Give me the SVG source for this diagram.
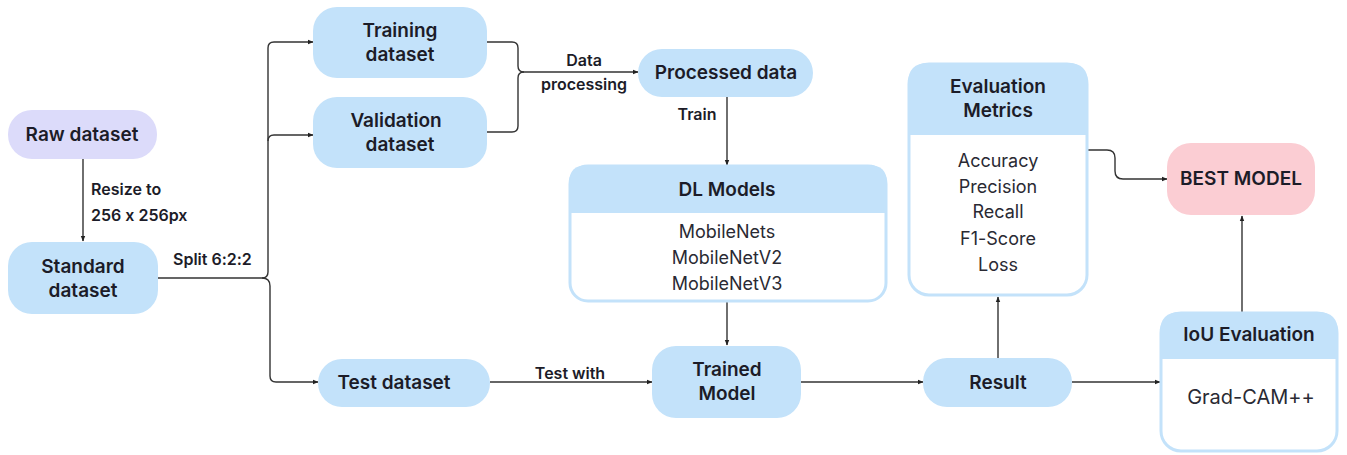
<svg xmlns="http://www.w3.org/2000/svg" width="1347" height="455" viewBox="0 0 1347 455">
<defs>
<marker id="ah" markerWidth="6" markerHeight="6" refX="5" refY="3" orient="auto" markerUnits="userSpaceOnUse">
<path d="M0,0.8 L5.5,3 L0,5.2 Z" fill="#222"/>
</marker>
<style>
.blue{fill:#c3e2fa}
.lav{fill:#dcdbfa}
.pink{fill:#fbcdd3}
.frame{fill:#ffffff;stroke:#c3e2fa;stroke-width:3}
text{font-feature-settings:"calt" 0;font-variant-ligatures:no-contextual}
.t{font-family:Inter,"Liberation Sans",sans-serif;font-weight:600;font-size:19px;fill:#1c1c28;text-anchor:middle}
.b{font-family:Inter,"Liberation Sans",sans-serif;font-weight:400;font-size:18px;fill:#2a2a33;text-anchor:middle}
.l{font-family:Inter,"Liberation Sans",sans-serif;font-weight:600;font-size:16px;fill:#1c1c28}
.c{fill:none;stroke:#333;stroke-width:1.4}
</style>
</defs>
<rect width="1347" height="455" fill="#ffffff"/>

<g id="connectors">
<path class="c" d="M83,159 V241" marker-end="url(#ah)"/>
<path class="c" d="M158,278 H262 Q268,278 268,272 V48 Q268,42 274,42 H313" marker-end="url(#ah)"/>
<path class="c" d="M268,141 Q268,135 274,135 H313" marker-end="url(#ah)"/>
<path class="c" d="M262,278 Q270,278 270,286 V376 Q270,382 276,382 H318" marker-end="url(#ah)"/>
<path class="c" d="M487,42 H512 Q518,42 518,48 V66 Q518,72 524,72 H638" marker-end="url(#ah)"/>
<path class="c" d="M487,132 H512 Q518,132 518,126 V78 Q518,72 524,72"/>
<path class="c" d="M727,97 V165" marker-end="url(#ah)"/>
<path class="c" d="M727,302 V345" marker-end="url(#ah)"/>
<path class="c" d="M490,382 H652" marker-end="url(#ah)"/>
<path class="c" d="M801,382 H923" marker-end="url(#ah)"/>
<path class="c" d="M998,358 V297" marker-end="url(#ah)"/>
<path class="c" d="M1088,150 H1107 Q1115,150 1115,158 V171 Q1115,179 1123,179 H1167" marker-end="url(#ah)"/>
<path class="c" d="M1072,382 H1160" marker-end="url(#ah)"/>
<path class="c" d="M1242,312 V216" marker-end="url(#ah)"/>
<text class="l" x="91" y="195">Resize to</text>
<text class="l" x="91" y="221">256 x 256px</text>
<text class="l" x="173" y="265">Split 6:2:2</text>
<text class="l" x="584" y="66" text-anchor="middle">Data</text>
<text class="l" x="584" y="90" text-anchor="middle">processing</text>
<text class="l" x="697" y="120" text-anchor="middle">Train</text>
<text class="l" x="570" y="379" text-anchor="middle">Test with</text>
</g>

<g id="raw">
<rect class="lav" x="8" y="110" width="149" height="49" rx="24"/>
<text class="t" x="82" y="141">Raw dataset</text>
</g>
<g id="standard">
<rect class="blue" x="8" y="242" width="150" height="72" rx="24"/>
<text class="t" x="83" y="273">Standard</text>
<text class="t" x="83" y="297">dataset</text>
</g>
<g id="training">
<rect class="blue" x="313" y="7" width="174" height="71" rx="24"/>
<text class="t" x="400" y="37">Training</text>
<text class="t" x="400" y="61">dataset</text>
</g>
<g id="validation">
<rect class="blue" x="313" y="97" width="174" height="71" rx="24"/>
<text class="t" x="396" y="127">Validation</text>
<text class="t" x="400" y="151">dataset</text>
</g>
<g id="test">
<rect class="blue" x="318" y="359" width="172" height="48" rx="24"/>
<text class="t" x="394" y="389">Test dataset</text>
</g>
<g id="processed">
<rect class="blue" x="638" y="49" width="175" height="48" rx="24"/>
<text class="t" x="726" y="79">Processed data</text>
</g>
<g id="dlmodels">
<rect class="frame" x="570" y="166" width="316" height="135" rx="18"/>
<path class="blue" d="M569,213 V183 Q569,165 587,165 H869 Q887,165 887,183 V213 Z"/>
<text class="t" x="727" y="196">DL Models</text>
<text class="b" x="727" y="238">MobileNets</text>
<text class="b" x="727" y="264">MobileNetV2</text>
<text class="b" x="727" y="290">MobileNetV3</text>
</g>
<g id="trained">
<rect class="blue" x="652" y="346" width="149" height="72" rx="24"/>
<text class="t" x="727" y="376">Trained</text>
<text class="t" x="727" y="400">Model</text>
</g>
<g id="result">
<rect class="blue" x="923" y="358" width="149" height="49" rx="24"/>
<text class="t" x="998" y="389">Result</text>
</g>
<g id="evaluation">
<rect class="frame" x="909" y="64" width="178" height="231" rx="20"/>
<path class="blue" d="M908,135 V83 Q908,63 928,63 H1068 Q1088,63 1088,83 V135 Z"/>
<text class="t" x="998" y="93">Evaluation</text>
<text class="t" x="998" y="117">Metrics</text>
<text class="b" x="998" y="167">Accuracy</text>
<text class="b" x="998" y="193">Precision</text>
<text class="b" x="998" y="218">Recall</text>
<text class="b" x="998" y="245">F1-Score</text>
<text class="b" x="998" y="271">Loss</text>
</g>
<g id="best">
<rect class="pink" x="1167" y="143" width="148" height="72" rx="24"/>
<text class="t" x="1241" y="185">BEST MODEL</text>
</g>
<g id="iou">
<rect class="frame" x="1161" y="313" width="176" height="138" rx="20"/>
<path class="blue" d="M1160,359 V332 Q1160,312 1180,312 H1318 Q1338,312 1338,332 V359 Z"/>
<text class="t" x="1249" y="341">IoU Evaluation</text>
<text class="b" x="1251" y="404" style="font-size:20px">Grad-CAM++</text>
</g>
</svg>
